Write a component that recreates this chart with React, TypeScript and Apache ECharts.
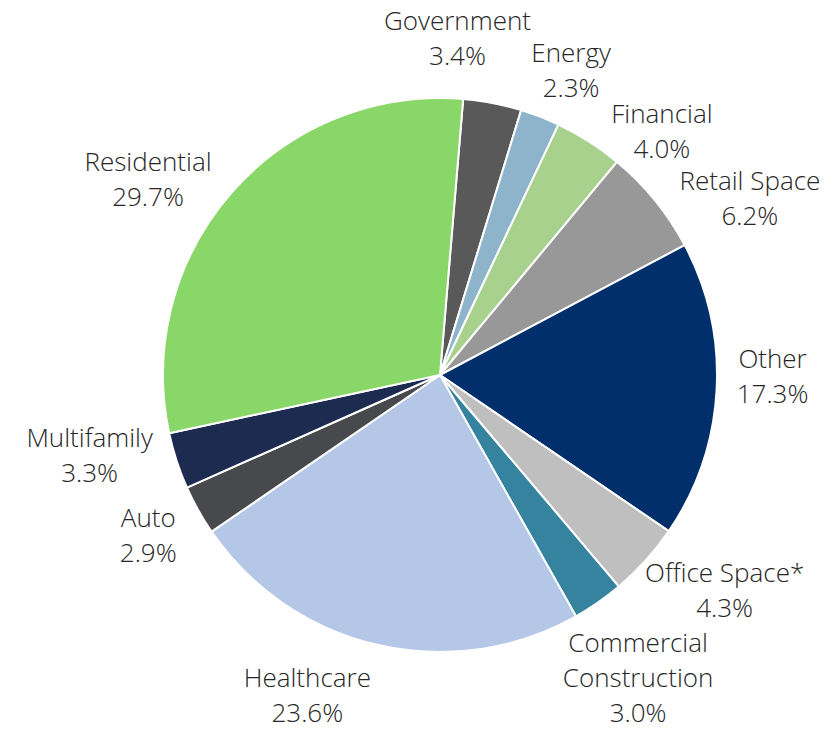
import React, { useEffect, useRef } from "react";
import * as echarts from "echarts";

const categories = [
  "Government",
  "Energy",
  "Financial",
  "Retail Space",
  "Other",
  "Office Space*",
  "Commercial\nConstruction",
  "Healthcare",
  "Auto",
  "Multifamily",
  "Residential",
];
const shares = [3.4, 2.3, 4.0, 6.2, 17.3, 4.3, 3.0, 23.6, 2.9, 3.3, 29.7];
const colors = [
  "#595959",
  "#8DB4CB",
  "#A9D18E",
  "#989898",
  "#002F6C",
  "#BFBFBF",
  "#35839E",
  "#B4C7E7",
  "#48494D",
  "#1E2B50",
  "#89D768",
];
// label offsets (px) from the slice's outer mid-arc point
const labelNudge = [
  [-35, -66],
  [31, -47],
  [73, -11],
  [95, -3],
  [56, -15],
  [79, 29],
  [40, 75],
  [-70, 50],
  [-50, 24],
  [-87, -6],
  [-84, -14],
];

const CX = 440;
const CY = 375;
const R = 277;
const START = 85.2; // degrees, ECharts convention

export default function App() {
  const ref = useRef<HTMLDivElement>(null);
  useEffect(() => {
    if (!ref.current) return;
    const chart = echarts.init(ref.current, null, { renderer: "svg" });
    const total = shares.reduce((a, b) => a + b, 0);
    const mids: number[] = [];
    let cum = 0;
    for (const v of shares) {
      mids.push((90 - START) + ((cum + v / 2) / total) * 360);
      cum += v;
    }
    chart.setOption({
      animation: false,
      series: [
        {
          type: "pie",
          center: [CX, CY],
          radius: [0, R],
          startAngle: START,
          clockwise: true,
          avoidLabelOverlap: false,
          emphasis: { disabled: true },
          itemStyle: { borderColor: "#ffffff", borderWidth: 2 },
          label: {
            show: true,
            position: "outside",
            formatter: (p: any) => `${p.name}\n${Number(p.value).toFixed(1)}%`,
            fontFamily: "Open Sans",
            fontWeight: 300,
            fontSize: 26,
            lineHeight: 35,
            color: "#262626",
            align: "center",
          },
          labelLine: { show: false },
          labelLayout: (params: any) => {
            const i = params.dataIndex;
            const a = (mids[i] * Math.PI) / 180;
            const ex = CX + R * Math.sin(a);
            const ey = CY - R * Math.cos(a);
            return {
              x: ex + labelNudge[i][0],
              y: ey + labelNudge[i][1],
              align: "center",
              verticalAlign: "middle",
            };
          },
          data: categories.map((name, i) => ({
            name,
            value: shares[i],
            itemStyle: { color: colors[i] },
          })),
        },
      ],
    });
    return () => chart.dispose();
  }, []);
  return (
    <div
      ref={ref}
      style={{ position: "absolute", left: 0, top: 0, width: 839, height: 731 }}
    />
  );
}
